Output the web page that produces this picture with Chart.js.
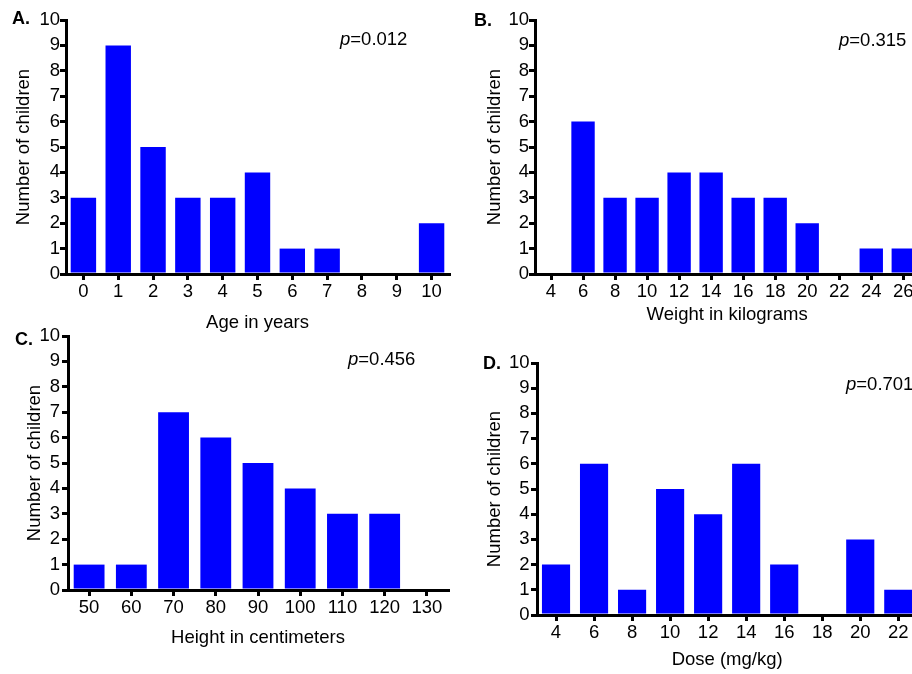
<!DOCTYPE html>
<html>
<head>
<meta charset="utf-8">
<script src="https://cdn.jsdelivr.net/npm/chart.js@4.4.0/dist/chart.umd.min.js"></script>
<style>
  html, body { margin: 0; padding: 0; background: #fff; overflow: hidden; }
  #page { position: relative; width: 912px; height: 674px; overflow: hidden;
          font-family: "Liberation Sans", Arial, Helvetica, sans-serif; color: #000; }
  canvas { position: absolute; }
  .tag { position: absolute; font-size: 18.5px; line-height: 18px; white-space: nowrap; }
  .letter { font-weight: bold; font-size: 18px; }
</style>
</head>
<body>
<div id="page">
  <canvas id="chart-a" width="456" height="340" style="left:0px;top:0px"></canvas>
  <canvas id="chart-b" width="480" height="340" style="left:456px;top:0px"></canvas>
  <canvas id="chart-c" width="456" height="354" style="left:0px;top:320px"></canvas>
  <canvas id="chart-d" width="480" height="354" style="left:456px;top:320px"></canvas>

  <div class="tag letter" style="left:12px;top:9px">A.</div>
  <div class="tag letter" style="left:474px;top:11px">B.</div>
  <div class="tag letter" style="left:15px;top:330px">C.</div>
  <div class="tag letter" style="left:483px;top:354px">D.</div>

  <div class="tag" style="left:340px;top:30px"><i>p</i>=0.012</div>
  <div class="tag" style="left:839px;top:31px"><i>p</i>=0.315</div>
  <div class="tag" style="left:348px;top:350px"><i>p</i>=0.456</div>
  <div class="tag" style="left:846px;top:375px"><i>p</i>=0.701</div>
</div>

<script>
// data
const ageYears = ['0', '1', '2', '3', '4', '5', '6', '7', '8', '9', '10'];
const ageCounts = [3, 9, 5, 3, 3, 4, 1, 1, 0, 0, 2];

const weightKg = ['4', '6', '8', '10', '12', '14', '16', '18', '20', '22', '24', '26'];
const weightCounts = [0, 6, 3, 3, 4, 4, 3, 3, 2, 0, 1, 1];

const heightCm = ['50', '60', '70', '80', '90', '100', '110', '120', '130'];
const heightCounts = [1, 1, 7, 6, 5, 4, 3, 3, 0];

const doseMgKg = ['4', '6', '8', '10', '12', '14', '16', '18', '20', '22'];
const doseCounts = [2, 6, 1, 5, 4, 6, 2, 0, 3, 1];

const countMin = 0;
const countMax = 10;

Chart.defaults.font.family = '"Liberation Sans", Arial, Helvetica, sans-serif';
Chart.defaults.font.size = 18.5;
Chart.defaults.color = '#000';

// where each plot area sits inside its canvas
const boxA = { w: 456, h: 340, l: 66, t: 20, r: 449, b: 274, xH: 60, yTitlePad: 12.5, yTickPad: 0, bar: 0.73 };
const boxB = { w: 480, h: 340, l: 79, t: 20, r: 463.3, b: 274, xH: 52, yTitlePad: 27.5, yTickPad: 0, bar: 0.73 };
const boxC = { w: 456, h: 354, l: 68, t: 16, r: 448, b: 270, xH: 59.5, yTitlePad: 23.5, yTickPad: 2, bar: 0.73 };
const boxD = { w: 480, h: 354, l: 81, t: 43, r: 461.3, b: 295, xH: 55.8, yTitlePad: 28, yTickPad: 1.5, bar: 0.74 };

function makeChart(id, labels, counts, xTitle, box) {
    const canvas = document.getElementById(id);
    const axisGrid = {
        drawOnChartArea: false,
        drawTicks: true,
        tickLength: 6,
        lineWidth: 3,
        color: '#000',
        offset: false
    };
    new Chart(canvas, {
        type: 'bar',
        data: {
            labels: labels,
            datasets: [{
                data: counts,
                backgroundColor: '#0000ff',
                borderWidth: 0,
                categoryPercentage: 1,
                barPercentage: box.bar
            }]
        },
        options: {
            responsive: false,
            animation: false,
            devicePixelRatio: 1,
            layout: {
                padding: { left: 0, top: box.t, right: box.w - box.r, bottom: box.h - box.b - box.xH }
            },
            plugins: { legend: { display: false }, tooltip: { enabled: false } },
            scales: {
                x: {
                    z: 1,
                    offset: true,
                    grid: axisGrid,
                    border: { display: true, color: '#000', width: 3 },
                    ticks: { padding: 1, maxRotation: 0, autoSkip: false },
                    title: { display: true, text: xTitle, padding: { top: 0, bottom: 0 } },
                    afterFit: (s) => { s.height = box.xH; }
                },
                y: {
                    z: 1,
                    min: countMin,
                    max: countMax,
                    grid: axisGrid,
                    border: { display: true, color: '#000', width: 3 },
                    ticks: { stepSize: 1, padding: box.yTickPad },
                    title: { display: true, text: 'Number of children', padding: { top: box.yTitlePad, bottom: 0 } },
                    afterFit: (s) => { s.width = box.l; }
                }
            }
        }
    });
}

document.addEventListener('DOMContentLoaded', () => {
    makeChart('chart-a', ageYears, ageCounts, 'Age in years', boxA);
    makeChart('chart-b', weightKg, weightCounts, 'Weight in kilograms', boxB);
    makeChart('chart-c', heightCm, heightCounts, 'Height in centimeters', boxC);
    makeChart('chart-d', doseMgKg, doseCounts, 'Dose (mg/kg)', boxD);
});
</script>
</body>
</html>
